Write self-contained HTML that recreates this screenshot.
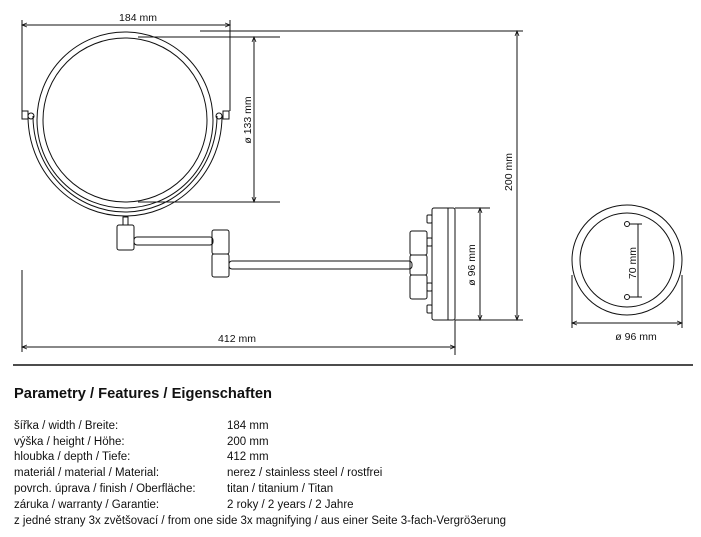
<!DOCTYPE html>
<html><head><meta charset="utf-8"><style>
html,body{margin:0;padding:0;background:#fff;width:701px;height:537px;overflow:hidden}
svg{display:block}
text{font-family:"Liberation Sans",sans-serif;fill:#111}
</style></head><body>
<svg width="701" height="537" viewBox="0 0 701 537" xmlns="http://www.w3.org/2000/svg">
<defs>
<marker id="a" markerWidth="6" markerHeight="6" refX="5" refY="3" orient="auto-start-reverse" markerUnits="userSpaceOnUse"><path d="M0,1 L5,3 L0,5" fill="none" stroke="#111" stroke-width="0.8"/></marker>
</defs>
<g fill="none" stroke="#111" stroke-width="1">
<!-- mirror -->
<circle cx="125" cy="120" r="88"/>
<circle cx="125" cy="120" r="82"/>
<path d="M28,116 A97,100 0 0 0 222,116"/>
<path d="M33,116 A92,96 0 0 0 217,116"/>
<rect x="22" y="111" width="6" height="8"/>
<rect x="223" y="111" width="6" height="8"/>
<circle cx="31" cy="116" r="3"/>
<circle cx="219" cy="116" r="3"/>
<!-- stem + arm -->
<rect x="123" y="217" width="5" height="8"/>
<rect x="117" y="225" width="17" height="25" rx="2"/>
<rect x="134" y="237" width="79" height="8" rx="3"/>
<rect x="212" y="230" width="17" height="24" rx="2"/>
<rect x="212" y="254" width="17" height="23" rx="2"/>
<rect x="229" y="261" width="183" height="8" rx="3"/>
<rect x="410" y="231" width="17" height="24" rx="2"/>
<rect x="410" y="255" width="17" height="20" rx="2"/>
<rect x="410" y="275" width="17" height="24" rx="2"/>
<rect x="427" y="215" width="5" height="8" rx="1"/>
<rect x="427" y="238" width="5" height="8" rx="1"/>
<rect x="427" y="283" width="5" height="8" rx="1"/>
<rect x="427" y="305" width="5" height="8" rx="1"/>
<rect x="432" y="208" width="23" height="112" rx="2"/>
<line x1="448" y1="208" x2="448" y2="320"/>
<!-- dims -->
<line x1="22" y1="20" x2="22" y2="111"/>
<line x1="230" y1="20" x2="230" y2="111"/>
<line x1="22" y1="25" x2="230" y2="25" marker-start="url(#a)" marker-end="url(#a)"/>
<line x1="138" y1="37" x2="280" y2="37"/>
<line x1="138" y1="202" x2="280" y2="202"/>
<line x1="254" y1="37" x2="254" y2="202" marker-start="url(#a)" marker-end="url(#a)"/>
<line x1="200" y1="31" x2="523" y2="31"/>
<line x1="455" y1="320" x2="523" y2="320"/>
<line x1="517" y1="31" x2="517" y2="320" marker-start="url(#a)" marker-end="url(#a)"/>
<line x1="455" y1="208" x2="490" y2="208"/>
<line x1="480" y1="208" x2="480" y2="320" marker-start="url(#a)" marker-end="url(#a)"/>
<line x1="22" y1="270" x2="22" y2="352"/>
<line x1="455" y1="320" x2="455" y2="355"/>
<line x1="22" y1="347" x2="455" y2="347" marker-start="url(#a)" marker-end="url(#a)"/>
<!-- right circle -->
<circle cx="627" cy="260" r="55"/>
<circle cx="627" cy="260" r="47"/>
<circle cx="627" cy="224" r="2.5"/>
<circle cx="627" cy="297" r="2.5"/>
<line x1="629.5" y1="224" x2="642" y2="224"/>
<line x1="629.5" y1="297" x2="642" y2="297"/>
<line x1="638" y1="224" x2="638" y2="297"/>
<line x1="572" y1="275" x2="572" y2="328"/>
<line x1="682" y1="275" x2="682" y2="328"/>
<line x1="572" y1="323" x2="682" y2="323" marker-start="url(#a)" marker-end="url(#a)"/>
<line x1="13" y1="365" x2="693" y2="365" stroke-width="1.5"/>
</g>
<g font-size="10.5">
<text x="138" y="21" text-anchor="middle">184 mm</text>
<text x="237" y="342" text-anchor="middle">412 mm</text>
<text x="636" y="340" text-anchor="middle">ø 96 mm</text>
<text transform="translate(251,120) rotate(-90)" text-anchor="middle">ø 133 mm</text>
<text transform="translate(512,172) rotate(-90)" text-anchor="middle">200 mm</text>
<text transform="translate(475,265) rotate(-90)" text-anchor="middle">ø 96 mm</text>
<text transform="translate(636,263) rotate(-90)" text-anchor="middle">70 mm</text>
</g>
<text x="14" y="398" font-size="14.5" font-weight="bold" textLength="258" lengthAdjust="spacingAndGlyphs">Parametry / Features / Eigenschaften</text>
<g font-size="11.5">
<text x="14" y="429">šířka / width / Breite:</text>
<text x="14" y="445">výška / height / Höhe:</text>
<text x="14" y="460">hloubka / depth / Tiefe:</text>
<text x="14" y="476">materiál / material / Material:</text>
<text x="14" y="492">povrch. úprava / finish / Oberfläche:</text>
<text x="14" y="508">záruka / warranty / Garantie:</text>
<text x="14" y="524" textLength="492" lengthAdjust="spacingAndGlyphs">z jedné strany 3x zvětšovací / from one side 3x magnifying / aus einer Seite 3-fach-Vergrö3erung</text>
<text x="227" y="429">184 mm</text>
<text x="227" y="445">200 mm</text>
<text x="227" y="460">412 mm</text>
<text x="227" y="476">nerez / stainless steel / rostfrei</text>
<text x="227" y="492">titan / titanium / Titan</text>
<text x="227" y="508">2 roky / 2 years / 2 Jahre</text>
</g>
</svg>
</body></html>
